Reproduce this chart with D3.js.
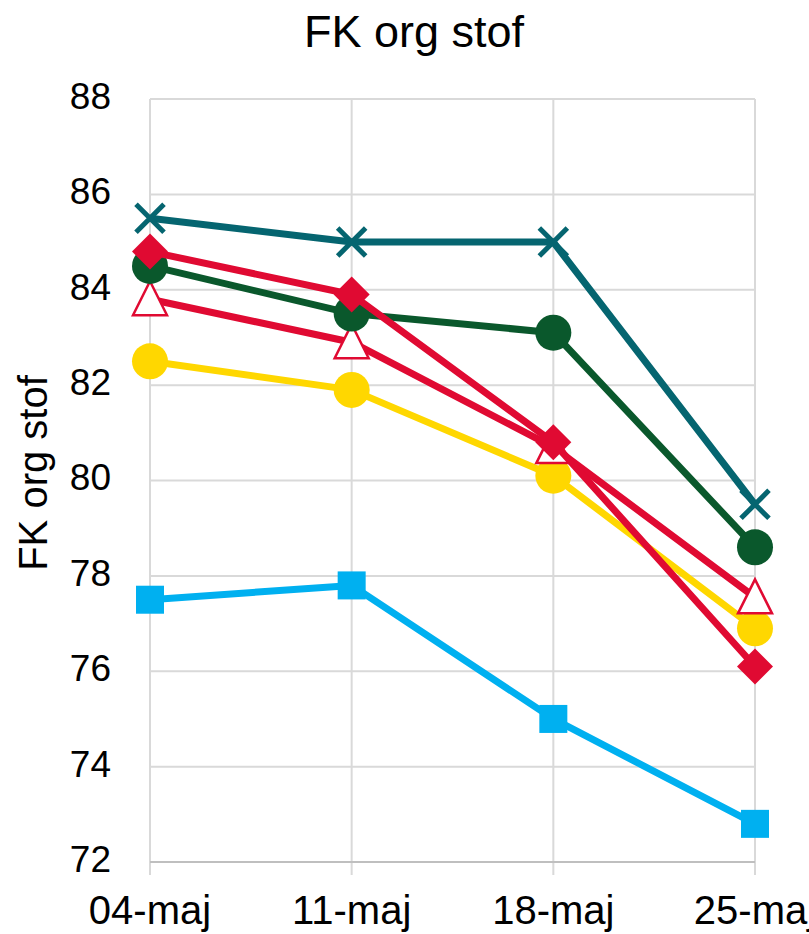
<!DOCTYPE html>
<html>
<head>
<meta charset="utf-8">
<script src="https://cdn.jsdelivr.net/npm/d3@7"></script>
<style>
  body { margin: 0; background: #fff; }
  svg { display: block; font-family: "Liberation Sans", Arial, sans-serif; }
</style>
</head>
<body>
<div id="chart"></div>
<script>
// data
const dates = ['04-maj', '11-maj', '18-maj', '25-maj'];
const yTicks = [72, 74, 76, 78, 80, 82, 84, 86, 88];

const blueSquare = [77.5, 77.8, 75.0, 72.8];
const yellowCircle = [82.5, 81.9, 80.1, 76.9];
const redTriangle = [83.8, 82.9, 80.7, 77.55];
const greenCircle = [84.5, 83.5, 83.1, 78.6];
const redDiamond = [84.8, 83.9, 80.8, 76.1];
const tealCross = [85.5, 85.0, 85.0, 79.5];

// drawing order = later on top
const series = [
    { values: blueSquare, color: '#00b0f0', marker: 'square' },
    { values: yellowCircle, color: '#ffd700', marker: 'circle' },
    { values: redTriangle, color: '#e00a32', marker: 'triangle' },
    { values: greenCircle, color: '#0a582c', marker: 'circle' },
    { values: redDiamond, color: '#e00a32', marker: 'diamond' },
    { values: tealCross, color: '#056570', marker: 'cross' }
];

const width = 809, height = 934;

const svg = d3.select('#chart').append('svg')
    .attr('width', width)
    .attr('height', height);

let x = d3.scalePoint()
    .domain(dates)
    .range([150, 755]);

let y = d3.scaleLinear()
    .domain([72, 88])
    .range([862, 99]);

// horizontal gridlines
svg.append('g')
    .selectAll('line')
    .data(yTicks.slice(1))
    .join('line')
        .attr('x1', 150)
        .attr('x2', 755)
        .attr('y1', d => y(d))
        .attr('y2', d => y(d))
        .attr('stroke', '#d9d9d9')
        .attr('stroke-width', 2);

// vertical gridlines + ticks below axis
svg.append('g')
    .selectAll('line')
    .data(dates)
    .join('line')
        .attr('x1', d => x(d))
        .attr('x2', d => x(d))
        .attr('y1', y(88))
        .attr('y2', y(72) + 13)
        .attr('stroke', '#d9d9d9')
        .attr('stroke-width', 2);

// bottom axis line
svg.append('line')
    .attr('x1', 150)
    .attr('x2', 755)
    .attr('y1', y(72))
    .attr('y2', y(72))
    .attr('stroke', '#bfbfbf')
    .attr('stroke-width', 2);

// y tick labels
svg.append('g')
    .selectAll('text')
    .data(yTicks)
    .join('text')
        .attr('x', 111)
        .attr('y', d => y(d))
        .attr('dy', '0.27em')
        .attr('text-anchor', 'end')
        .style('font-size', '37px')
        .attr('fill', '#000')
        .text(d => d);

// x labels
svg.append('g')
    .selectAll('text')
    .data(dates)
    .join('text')
        .attr('x', d => x(d))
        .attr('y', 924)
        .attr('text-anchor', 'middle')
        .style('font-size', '40px')
        .attr('fill', '#000')
        .text(d => d);

// title
svg.append('text')
    .attr('x', 414)
    .attr('y', 47)
    .attr('text-anchor', 'middle')
    .style('font-size', '45px')
    .text('FK org stof');

// y axis title
svg.append('text')
    .attr('transform', 'translate(47,473) rotate(-90)')
    .attr('text-anchor', 'middle')
    .style('font-size', '40px')
    .text('FK org stof');

const line = d3.line()
    .x((d, i) => x(dates[i]))
    .y(d => y(d));

const drawMarker = (g, s) => {
    const pts = g.selectAll('g.m')
        .data(s.values)
        .join('g')
            .attr('class', 'm')
            .attr('transform', (d, i) => `translate(${x(dates[i])},${y(d)})`);
    if (s.marker === 'circle') {
        pts.append('circle').attr('r', 18).attr('fill', s.color);
    } else if (s.marker === 'square') {
        pts.append('rect')
            .attr('x', -14).attr('y', -14)
            .attr('width', 28).attr('height', 28)
            .attr('fill', s.color);
    } else if (s.marker === 'diamond') {
        pts.append('path')
            .attr('d', 'M0,-18L18,0L0,18L-18,0Z')
            .attr('fill', s.color);
    } else if (s.marker === 'triangle') {
        pts.append('path')
            .attr('d', 'M0,-17L17,17L-17,17Z')
            .attr('transform', 'translate(0,-1)')
            .attr('fill', '#fff')
            .attr('stroke', s.color)
            .attr('stroke-width', 2.5);
    } else if (s.marker === 'cross') {
        pts.append('path')
            .attr('d', 'M-14,-14L14,14M14,-14L-14,14')
            .attr('stroke', s.color)
            .attr('stroke-width', 5);
    }
};

series.forEach(s => {
    let g = svg.append('g');
    g.append('path')
        .datum(s.values)
        .attr('d', line)
        .attr('fill', 'none')
        .attr('stroke', s.color)
        .attr('stroke-width', 7)
        .attr('stroke-linejoin', 'round');
    drawMarker(g, s);
});
</script>
</body>
</html>
